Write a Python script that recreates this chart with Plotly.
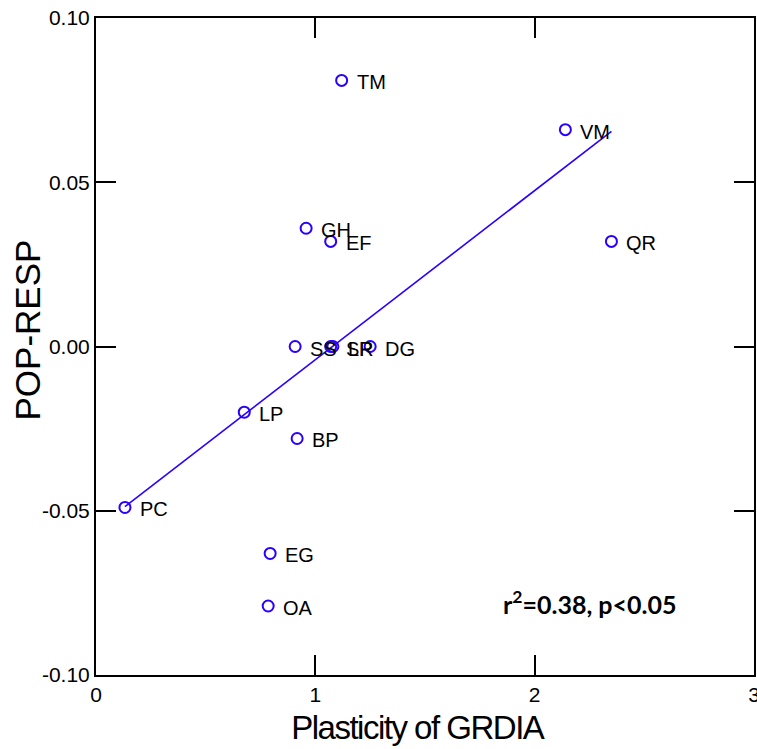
import numpy as np
import plotly.graph_objects as go

# Data
labels = ["TM", "VM", "GH", "EF", "QR", "SS", "SP", "LR", "DG", "LP", "BP", "PC", "EG", "OA"]
plasticity = [1.12, 2.14, 0.958, 1.07, 2.35, 0.908, 1.07, 1.08, 1.25, 0.676, 0.917, 0.132, 0.794, 0.785]
pop_resp = [0.081, 0.066, 0.036, 0.032, 0.032, 0.0, 0.0, 0.0, 0.0, -0.020, -0.028, -0.049, -0.063, -0.079]

x_ticks = [0, 1, 2, 3]
x_ticktext = ["0", "1", "2", "3"]
y_ticks = [-0.10, -0.05, 0.0, 0.05, 0.10]
y_ticktext = ["-0.10", "-0.05", "0.00", "0.05", "0.10"]

x_title = "Plasticity of GRDIA"
y_title = "POP-RESP"
stat_text = "r<sup>2</sup>=0.38, p<0.05"

BLUE = "#2a00ff"
FONT = "Liberation Sans, Arial, sans-serif"

x = np.array(plasticity)
y = np.array(pop_resp)
slope, intercept = np.polyfit(x, y, 1)
xfit = np.array([x.min(), x.max()])
yfit = slope * xfit + intercept

fig = go.Figure()
fig.add_trace(go.Scatter(x=xfit, y=yfit, mode="lines",
                         line=dict(color=BLUE, width=1.6), showlegend=False, hoverinfo="skip"))
fig.add_trace(go.Scatter(x=plasticity, y=pop_resp, mode="markers",
                         marker=dict(symbol="circle-open", size=11, color=BLUE,
                                     line=dict(color=BLUE, width=2)),
                         text=labels, showlegend=False))

for lab, xv, yv in zip(labels, plasticity, pop_resp):
    fig.add_annotation(x=xv, y=yv, text=lab, showarrow=False, xanchor="left", yanchor="middle",
                       xshift=13, yshift=-2, font=dict(family=FONT, size=20, color="black"))

fig.add_annotation(x=0.751, y=0.11, xref="paper", yref="paper", text=stat_text, showarrow=False,
                   xanchor="center", yanchor="middle",
                   font=dict(family="Lato, Carlito, sans-serif", size=25, color="black", weight="bold"))

# axis titles
fig.add_annotation(x=0.5, y=0, xref="paper", yref="paper", text=x_title, showarrow=False,
                   xanchor="center", yanchor="middle", xshift=-8, yshift=-52,
                   font=dict(family=FONT, size=33, color="black"))
fig.add_annotation(x=0, y=0.5, xref="paper", yref="paper", text=y_title, showarrow=False,
                   textangle=-90, xanchor="center", yanchor="middle", xshift=-69, yshift=16,
                   font=dict(family=FONT, size=35, color="black"))

axis_common = dict(showline=True, linecolor="black", linewidth=2, mirror="ticks",
                   ticks="inside", ticklen=20, tickwidth=2, tickcolor="black",
                   showgrid=False, zeroline=False, ticklabeloverflow="allow", automargin=False,
                   tickfont=dict(family=FONT, size=21, color="black"))

fig.update_xaxes(range=[0, 3], tickvals=x_ticks, ticktext=x_ticktext, **axis_common)
fig.update_yaxes(range=[-0.10, 0.10], tickvals=y_ticks, ticktext=y_ticktext, **axis_common)

fig.update_layout(width=757, height=749, margin=dict(l=96, r=3, t=18, b=74, autoexpand=False),
                  plot_bgcolor="white", paper_bgcolor="white")

post = (
    "document.body.style.margin='0';document.body.style.overflow='hidden';"
    "document.querySelectorAll('.annotation-text').forEach(function(t){"
    "if(t.textContent==='Plasticity of GRDIA'){t.style.letterSpacing='-1.5px';}});"
)

fig.write_html("out.html", post_script=post, config={"displayModeBar": False})
